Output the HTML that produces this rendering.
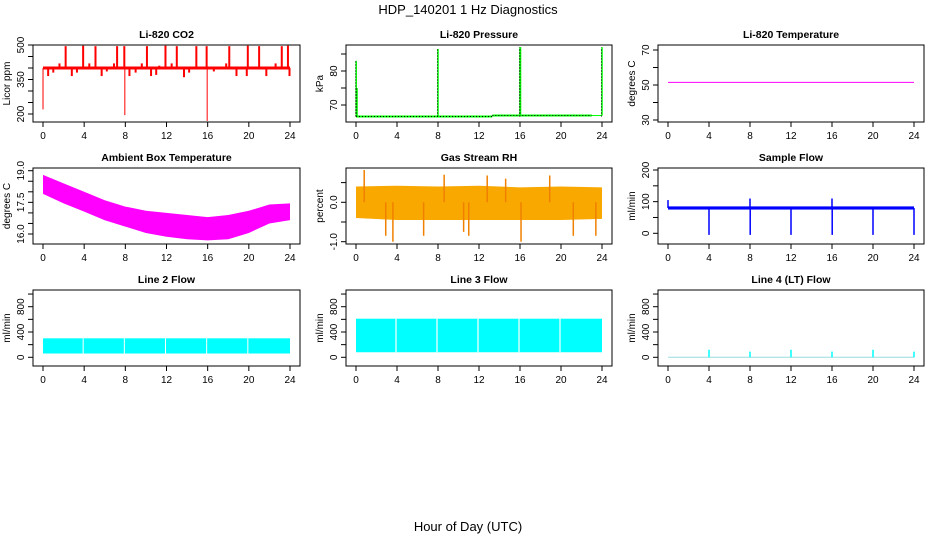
<!DOCTYPE html>
<html><head><meta charset="utf-8"><style>
html,body{margin:0;padding:0;background:#fff;}
svg{display:block;font-family:"Liberation Sans",sans-serif;}
</style></head>
<body>
<svg id="c" width="936" height="540" viewBox="0 0 936 540" xmlns="http://www.w3.org/2000/svg">
<text x="468" y="14" font-size="13" text-anchor="middle">HDP_140201  1 Hz Diagnostics</text>
<text x="468" y="531" font-size="13" text-anchor="middle">Hour of Day (UTC)</text>
</svg>
<script>
// ---- data ----
const xTicks = [0,4,8,12,16,20,24];
// CO2
const co2Base = 400;
const co2SpikeHours = [2.2,3.9,5.1,7.2,7.9,10.1,11.9,13.0,14.9,15.9,18.1,19.9,21.0,23.2,23.8,1.6,4.5,6.9,9.6,11.3,12.5,17.8,22.6,0.5,1.0,2.8,3.3,5.7,6.2,8.4,9.0,10.5,11.0,13.7,14.2,16.6,18.8,19.8,21.7,23.95,0.05,8.0,16.0];
const co2SpikeVals  = [495,497,495,495,495,495,497,495,495,495,495,497,495,495,497,420,420,420,420,410,420,420,420,365,380,365,380,365,385,365,380,365,370,360,380,385,365,365,365,365,220,195,170];
// Pressure
const presSegStart = [0,13.3];
const presSegEnd   = [13.3,23];
const presSegVal   = [66.6,66.9];
const presSpikeHours = [0.02,0.1,8,16,16.05,24];
const presSpikeVals  = [83,75,86.5,87,87,87];
// Li-820 temperature
const tempVal = 51.5;
// Ambient box temperature envelope
const ambHours = [0,2,4,6,8,10,12,14,16,18,20,22,24];
const ambUpper = [18.8,18.4,18.0,17.6,17.3,17.1,17.0,16.9,16.8,16.9,17.1,17.4,17.45];
const ambLower = [17.9,17.45,17.06,16.65,16.35,16.05,15.87,15.75,15.7,15.75,16.05,16.5,16.66];
// RH
const rhHours = [0,4,8,12,16,20,24];
const rhUpper = [0.4,0.42,0.4,0.42,0.38,0.4,0.38];
const rhLower = [-0.4,-0.45,-0.45,-0.45,-0.45,-0.45,-0.42];
const rhSpikeHours = [0.8,3.6,8.6,12.8,16.1,18.9,2.9,6.6,11.0,21.2,23.4,10.5,14.6];
const rhSpikeVals  = [0.82,-1.0,0.7,0.68,-1.0,0.68,-0.85,-0.85,-0.85,-0.85,-0.85,-0.75,0.6];
// Sample flow
const sfBase = 80;
const sfSpikeHours = [0,4,8,8.02,12,16,16.02,20,24];
const sfSpikeVals  = [105,-5,110,-5,-5,110,-5,-5,-5];
// Line flows
const l2Upper = 300, l2Lower = 60;
const l3Upper = 610, l3Lower = 80;
const gapHours = [4,8,12,16,20];
const l4SpikeHours = [4,8,12,16,20,24];
const l4SpikeVals  = [120,90,120,90,120,90];

// ---- layout ----
const svg = document.getElementById('c');
const NS = 'http://www.w3.org/2000/svg';
function el(tag, attrs, parent){
  const e = document.createElementNS(NS, tag);
  for (const k in attrs) e.setAttribute(k, attrs[k]);
  (parent||svg).appendChild(e);
  return e;
}
const cols = [{l:33,r:300,x0:43,x24:290},{l:346,r:612,x0:356,x24:602},{l:658,r:924,x0:668,x24:914}];
const rows = [{t:45,b:122},{t:168,b:244},{t:290,b:366}];

function makePanel(ci, ri, name, title, ytitle, v1, p1, v2, p2, ticks, labels){
  const c = cols[ci], r = rows[ri];
  const g = el('g', {});
  
  
  const sx = h => c.x0 + (c.x24 - c.x0) * h / 24;
  const sy = v => p1 + (v - v1) * (p2 - p1) / (v2 - v1);
  const t = el('text', {x:(c.l+c.r)/2, y:r.t-7, 'font-size':10.5, 'font-weight':'bold', 'text-anchor':'middle'}, g);
  t.textContent = title;
  
  
  const marks = el('g', {}, g);
  
  
  const box = el('rect', {x:c.l, y:r.t, width:c.r-c.l, height:r.b-r.t, fill:'none', stroke:'#000', 'stroke-width':1}, g);
  
  
  const xa = el('g', {}, g);
  
  
  el('line', {x1:sx(0), x2:sx(24), y1:r.b, y2:r.b, stroke:'#000'}, xa);
  xTicks.forEach(h => {
    el('line', {x1:sx(h), x2:sx(h), y1:r.b, y2:r.b+5, stroke:'#000'}, xa);
    const tx = el('text', {x:sx(h), y:r.b+17, 'font-size':10, 'text-anchor':'middle'}, xa);
    tx.textContent = h;
  });
  const ya = el('g', {}, g);
  
  
  el('line', {x1:c.l, x2:c.l, y1:sy(ticks[0]), y2:sy(ticks[ticks.length-1]), stroke:'#000'}, ya);
  ticks.forEach(v => el('line', {x1:c.l-5, x2:c.l, y1:sy(v), y2:sy(v), stroke:'#000'}, ya));
  labels.forEach(lb => {
    const y = sy(parseFloat(lb));
    const tx = el('text', {x:c.l-9, y:y, 'font-size':10, 'text-anchor':'middle', transform:`rotate(-90 ${c.l-9} ${y})`}, ya);
    tx.textContent = lb;
  });
  const yt = el('text', {x:c.l-23, y:(r.t+r.b)/2, 'font-size':10, 'text-anchor':'middle', transform:`rotate(-90 ${c.l-23} ${(r.t+r.b)/2})`}, g);
  yt.textContent = ytitle;
  
  
  return {g:marks, sx, sy};
}
function band(P, hours, up, lo, fill){
  let d = hours.map((h,i)=>(i?'L':'M')+P.sx(h)+' '+P.sy(up[i])).join(' ');
  for (let i=hours.length-1;i>=0;i--) d += ' L'+P.sx(hours[i])+' '+P.sy(lo[i]);
  return el('path', {d:d+'Z', fill:fill}, P.g);
}

// Panel 1: CO2
let P = makePanel(0,0,'co2-panel','Li-820 CO2','Licor ppm',200,114,500,45,[200,250,300,350,400,450,500],['200','350','500']);
co2SpikeHours.forEach((h,i)=>{
  const a = P.sy(co2Base), b = P.sy(co2SpikeVals[i]);
  const s = el('rect', {x:P.sx(h)-1, y:Math.min(a,b), width:(co2SpikeVals[i]<300?1:2), height:Math.abs(a-b), fill:'#ff0000'}, P.g);
  
  
});
el('line', {x1:P.sx(0), x2:P.sx(24), y1:P.sy(co2Base), y2:P.sy(co2Base), stroke:'#ff0000', 'stroke-width':3}, P.g);

// Panel 2: Pressure
P = makePanel(1,0,'pressure-panel','Li-820 Pressure','kPa',70,105,80,71,[70,75,80,85],['70','80']);
presSegStart.forEach((s,i)=>{
  el('line', {x1:P.sx(s), x2:P.sx(presSegEnd[i]), y1:P.sy(presSegVal[i]), y2:P.sy(presSegVal[i]), stroke:'#00ff00', 'stroke-width':2}, P.g);
  el('line', {x1:P.sx(s), x2:P.sx(presSegEnd[i]), y1:P.sy(presSegVal[i]), y2:P.sy(presSegVal[i]), stroke:'#000', 'stroke-width':1, 'stroke-dasharray':'1 2'}, P.g);
});
el('line', {x1:P.sx(23), x2:P.sx(24), y1:P.sy(66.9), y2:P.sy(66.9), stroke:'#00ff00'}, P.g);
presSpikeHours.forEach((h,i)=>{
  const s = el('line', {x1:P.sx(h), x2:P.sx(h), y1:P.sy(presSegVal[h>13.3?1:0]), y2:P.sy(presSpikeVals[i]), stroke:'#00ff00', 'stroke-width':1.5}, P.g);
  
  
  el('line', {x1:P.sx(h)-0.5, x2:P.sx(h)-0.5, y1:P.sy(presSegVal[0]), y2:P.sy(presSpikeVals[i]), stroke:'#000', 'stroke-width':1, 'stroke-dasharray':'1 2'}, P.g);
});

// Panel 3: Li-820 temperature
P = makePanel(2,0,'li820-temperature-panel','Li-820 Temperature','degrees C',30,120,70,50,[30,40,50,60,70],['30','50','70']);
el('line', {x1:P.sx(0), x2:P.sx(24), y1:P.sy(tempVal), y2:P.sy(tempVal), stroke:'#ff00ff', 'stroke-width':1}, P.g);

// Panel 4: Ambient box temperature
P = makePanel(0,1,'ambient-temperature-panel','Ambient Box Temperature','degrees C',16,234,19,170.7,[16,16.5,17,17.5,18,18.5,19],['16.0','17.5','19.0']);
band(P, ambHours, ambUpper, ambLower, '#ff00ff');

// Panel 5: Gas stream RH
P = makePanel(1,1,'gas-stream-rh-panel','Gas Stream RH','percent',0,202.3,-1,241.7,[-1,-0.5,0,0.5],['-1.0','0.0']);
band(P, rhHours, rhUpper, rhLower, '#f9a800');
rhSpikeHours.forEach((h,i)=>{
  const v = rhSpikeVals[i];
  const s = el('line', {x1:P.sx(h), x2:P.sx(h), y1:P.sy(0), y2:P.sy(v), stroke:'#f08000', 'stroke-width':1.5}, P.g);
  
  
});

// Panel 6: Sample flow
P = makePanel(2,1,'sample-flow-panel','Sample Flow','ml/min',0,233.3,200,170,[0,50,100,150,200],['0','100','200']);
el('rect', {x:P.sx(0), y:P.sy(sfBase+5), width:P.sx(24)-P.sx(0), height:P.sy(sfBase-5)-P.sy(sfBase+5), fill:'#0000ff'}, P.g);
sfSpikeHours.forEach((h,i)=>{
  const s = el('line', {x1:P.sx(h), x2:P.sx(h), y1:P.sy(sfBase), y2:P.sy(sfSpikeVals[i]), stroke:'#0000ff', 'stroke-width':1.5}, P.g);
  
  
});

// Panel 7-9: line flows
const flowTicks = [0,200,400,600,800,1000], flowLabels = ['0','400','800'];
P = makePanel(0,2,'line2-flow-panel','Line 2 Flow','ml/min',0,357.3,800,306.7,flowTicks,flowLabels);
el('rect', {x:P.sx(0), y:P.sy(l2Upper), width:P.sx(24)-P.sx(0), height:P.sy(l2Lower)-P.sy(l2Upper), fill:'#00ffff'}, P.g);
gapHours.forEach(h=>el('line', {x1:P.sx(h)-1, x2:P.sx(h)-1, y1:P.sy(l2Upper), y2:P.sy(l2Lower), stroke:'#fff', 'stroke-width':1}, P.g));

P = makePanel(1,2,'line3-flow-panel','Line 3 Flow','ml/min',0,357.3,800,306.7,flowTicks,flowLabels);
el('rect', {x:P.sx(0), y:P.sy(l3Upper), width:P.sx(24)-P.sx(0), height:P.sy(l3Lower)-P.sy(l3Upper), fill:'#00ffff'}, P.g);
gapHours.forEach(h=>el('line', {x1:P.sx(h)-1, x2:P.sx(h)-1, y1:P.sy(l3Upper), y2:P.sy(l3Lower), stroke:'#fff', 'stroke-width':1.2}, P.g));

P = makePanel(2,2,'line4-flow-panel','Line 4 (LT) Flow','ml/min',0,357.3,800,306.7,flowTicks,flowLabels);
el('line', {x1:P.sx(0), x2:P.sx(24), y1:P.sy(0), y2:P.sy(0), stroke:'#99dddd', 'stroke-width':1}, P.g);
l4SpikeHours.forEach((h,i)=>{
  const s = el('line', {x1:P.sx(h), x2:P.sx(h), y1:P.sy(0), y2:P.sy(l4SpikeVals[i]), stroke:'#00ffff', 'stroke-width':1.5}, P.g);
  
  
});
</script>
</body></html>
